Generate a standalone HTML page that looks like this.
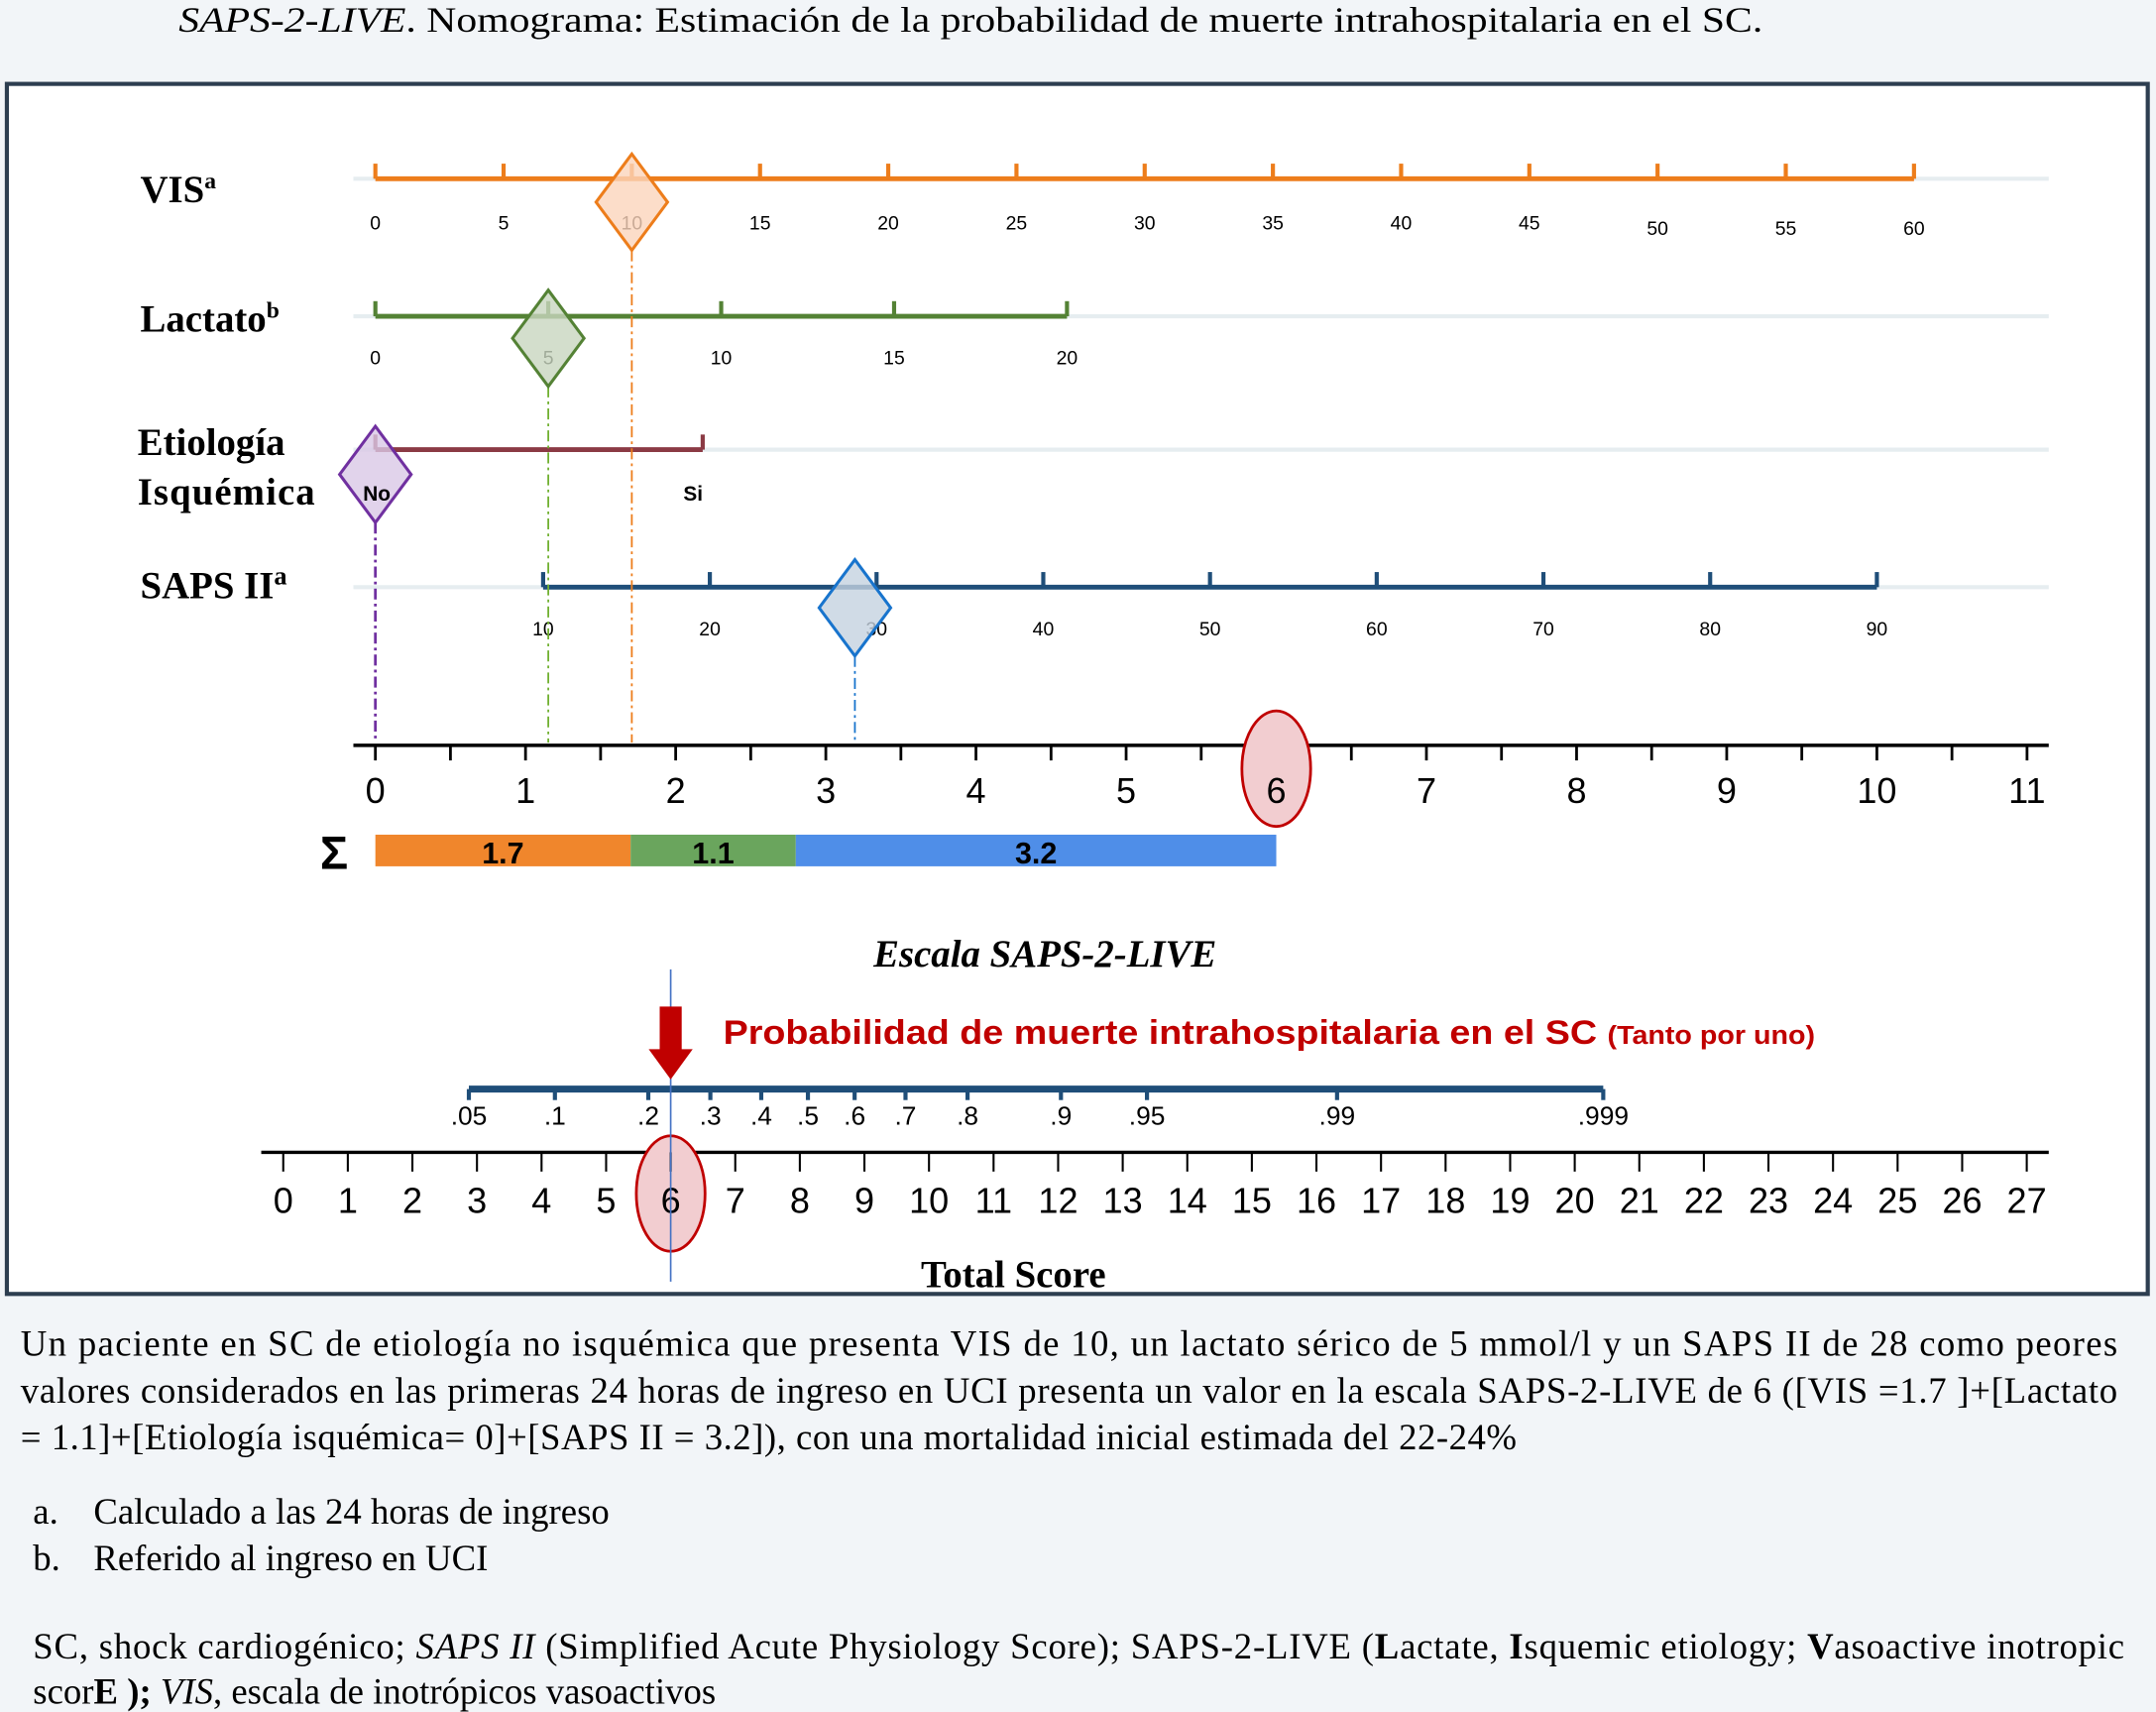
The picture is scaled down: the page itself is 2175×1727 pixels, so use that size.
<!DOCTYPE html>
<html><head><meta charset="utf-8"><style>
html,body{margin:0;padding:0;background:#f2f5f8;}
svg{display:block;}
.s{font-family:"Liberation Serif",serif;}
.a{font-family:"Liberation Sans",sans-serif;}
</style></head><body>
<svg id="c" width="2175" height="1727" viewBox="0 0 1568 1245" xmlns="http://www.w3.org/2000/svg">
<rect width="1568" height="1245" fill="#f2f5f8"/>
<text class="s" x="130" y="23" font-size="26" textLength="1152" lengthAdjust="spacingAndGlyphs"><tspan font-style="italic">SAPS-2-LIVE</tspan>. Nomograma: Estimación de la probabilidad de muerte intrahospitalaria en el SC.</text>
<rect x="5" y="61" width="1557" height="880" fill="#fff" stroke="#2d3e50" stroke-width="3"/>
<g id="g"></g>
<text class="s" x="102" y="147" font-size="28" font-weight="bold">VIS<tspan font-size="17" dy="-10">a</tspan></text>
<text class="s" x="102" y="241" font-size="28" font-weight="bold">Lactato<tspan font-size="17" dy="-10">b</tspan></text>
<text class="s" x="100" y="331" font-size="28" font-weight="bold">Etiología</text>
<text class="s" x="100" y="367" font-size="28" font-weight="bold" textLength="129">Isquémica</text>
<text class="s" x="102" y="435" font-size="28" font-weight="bold">SAPS II<tspan font-size="19" dy="-10">a</tspan></text>
<text class="a" x="243" y="632" font-size="34" font-weight="bold" text-anchor="middle">Σ</text>
<text class="s" x="760" y="703" font-size="28" font-weight="bold" font-style="italic" text-anchor="middle">Escala SAPS-2-LIVE</text>
<text class="a" x="526" y="759" font-size="25" font-weight="bold" fill="#c00000" textLength="794" lengthAdjust="spacingAndGlyphs">Probabilidad de muerte intrahospitalaria en el SC <tspan font-size="19">(Tanto por uno)</tspan></text>
<text class="s" x="737" y="936" font-size="28" font-weight="bold" text-anchor="middle">Total Score</text>
<g class="s" font-size="26.5">
<text x="15" y="986" textLength="1525" lengthAdjust="spacing">Un paciente en SC de etiología no isquémica que presenta  VIS de 10, un lactato sérico de 5 mmol/l y un SAPS II de 28 como peores</text>
<text x="15" y="1020" textLength="1525" lengthAdjust="spacing">valores considerados en las primeras 24 horas de ingreso en UCI presenta un valor en la escala  SAPS-2-LIVE  de 6 ([VIS =1.7 ]+[Lactato</text>
<text x="15" y="1054" textLength="1088" lengthAdjust="spacing">= 1.1]+[Etiología isquémica= 0]+[SAPS II = 3.2]), con una mortalidad inicial estimada del 22-24%</text>
<text x="24" y="1108">a.</text><text x="68" y="1108">Calculado a las 24 horas de ingreso</text>
<text x="24" y="1142">b.</text><text x="68" y="1142">Referido al ingreso en UCI</text>
<text x="24" y="1206" textLength="1521" lengthAdjust="spacing">SC, shock cardiogénico; <tspan font-style="italic">SAPS II</tspan> (Simplified Acute Physiology Score);  SAPS-2-LIVE (<tspan font-weight="bold">L</tspan>actate, <tspan font-weight="bold">I</tspan>squemic etiology; <tspan font-weight="bold">V</tspan>asoactive inotropic</text>
<text x="24" y="1239">scor<tspan font-weight="bold">E );</tspan> <tspan font-style="italic">VIS</tspan>, escala de inotrópicos vasoactivos</text>
</g>
</svg>
<script>
const pointTicks=[0,1,2,3,4,5,6,7,8,9,10,11];
const visTicks=[0,5,10,15,20,25,30,35,40,45,50,55,60];
const lacTicks=[0,5,10,15,20];
const etioLabels=["No","Si"];
const etioPoints=[0,2.18];
const sapsTicks=[10,20,30,40,50,60,70,80,90];
const totalTicks=[0,1,2,3,4,5,6,7,8,9,10,11,12,13,14,15,16,17,18,19,20,21,22,23,24,25,26,27];
const probLabels=[".05",".1",".2",".3",".4",".5",".6",".7",".8",".9",".95",".99",".999"];
const probValues=[0.05,0.1,0.2,0.3,0.4,0.5,0.6,0.7,0.8,0.9,0.95,0.99,0.999];
const patientVIS=10, patientLac=5, patientEtio=0, patientSAPS=28.7;
const contribNames=["vis","lactato","saps"];
const contribValues=[1.7,1.1,3.2];
const totalScore=6;

const NS="http://www.w3.org/2000/svg";
const g=document.getElementById('g');
function el(t,a,p){const e=document.createElementNS(NS,t);for(const k in a)e.setAttribute(k,a[k]);(p||g).appendChild(e);return e;}
const px=v=>273+v*109.2;
const visX=v=>273+v*(1392-273)/60;
const lacX=v=>273+v*(776-273)/20;
const sapsX=v=>395+(v-10)*(1365-395)/80;
const totX=v=>206+v*(1474-206)/27;
const logit=p=>Math.log(p/(1-p));
const probX=p=>341+(logit(p)-logit(0.05))*(1166-341)/(logit(0.999)-logit(0.05));

[130,230,327,427].forEach(y=>{const l=el('line',{x1:257,x2:1490,y1:y,y2:y,stroke:'#e6edf0','stroke-width':3});
});

function scale(ticks,f,y,col,ly,name,stagger){
  const L=el('line',{x1:f(ticks[0]),x2:f(ticks[ticks.length-1]),y1:y,y2:y,stroke:col,'stroke-width':3.5});
  
  ticks.forEach((t,i)=>{
    const tk=el('line',{x1:f(t),x2:f(t),y1:y,y2:y-11,stroke:col,'stroke-width':3});
    
    const tx=el('text',{x:f(t),y:ly+(stagger&&t>=50?4:0),'font-size':14,'text-anchor':'middle','font-family':'Liberation Sans, sans-serif'});
    tx.textContent=t;
  });
}
scale(visTicks,visX,130,'#ed7d1b',167,'vis',true);
scale(lacTicks,lacX,230,'#548235',265,'lactato',false);
scale(sapsTicks,sapsX,427,'#1f4e79',462,'saps',false);
{const L=el('line',{x1:px(etioPoints[0]),x2:px(etioPoints[1]),y1:327,y2:327,stroke:'#8b3a44','stroke-width':3.5});

etioPoints.forEach((p,i)=>{const tk=el('line',{x1:px(p),x2:px(p),y1:327,y2:316,stroke:'#8b3a44','stroke-width':3});

const t=el('text',{x:px(p)+(i?-7:1),y:364,'font-size':15,'font-weight':'bold','text-anchor':'middle','font-family':'Liberation Sans, sans-serif'});
t.textContent=etioLabels[i];});}

{const L=el('line',{x1:257,x2:1490,y1:542,y2:542,stroke:'#000','stroke-width':2.5});

pointTicks.forEach(t=>{const tk=el('line',{x1:px(t),x2:px(t),y1:542,y2:553,stroke:'#000','stroke-width':2});

if(px(t+0.5)<1490){const mid=el('line',{x1:px(t+0.5),x2:px(t+0.5),y1:542,y2:553,stroke:'#000','stroke-width':2});
}});}

{const e=el('ellipse',{cx:px(totalScore),cy:559,rx:25,ry:42,fill:'#f2cdd0',stroke:'#c00000','stroke-width':2});
}
pointTicks.forEach(t=>{const tx=el('text',{x:px(t),y:584,'font-size':26,'text-anchor':'middle','font-family':'Liberation Sans, sans-serif'});
tx.textContent=t;});

const marks=[
 {n:'etiologia',x:px(etioPoints[patientEtio]),y:345,col:'#7030a0',fill:'#d9c8e6'},
 {n:'lactato',x:lacX(patientLac),y:246,col:'#548235',fill:'#c8d6bf'},
 {n:'vis',x:visX(patientVIS),y:147,col:'#ed7d1b',fill:'#fbd5bc'},
 {n:'saps',x:sapsX(patientSAPS),y:442,col:'#1874cd',fill:'#c4d2e0'}];
const dcol={etiologia:'#7030a0',lactato:'#70b030',vis:'#ed7d1b',saps:'#1874cd'};
marks.forEach(m=>{
 const l=el('line',{x1:m.x,x2:m.x,y1:m.y+35,y2:540,stroke:dcol[m.n],'stroke-width':m.n==='etiologia'?2:1.3,'stroke-dasharray':'8 3 2 3'});
 
 const d=el('polygon',{points:`${m.x},${m.y-35} ${m.x+26},${m.y} ${m.x},${m.y+35} ${m.x-26},${m.y}`,fill:m.fill,'fill-opacity':0.8,stroke:m.col,'stroke-width':2.2});
 
});
{const t=el('text',{x:px(0)+1,y:364,'font-size':15,'font-weight':'bold','text-anchor':'middle','font-family':'Liberation Sans, sans-serif'});t.textContent='No';
}

const barCols=['#f0862c','#6aa55d','#4f8ee8'];
let acc=0;
contribValues.forEach((v,i)=>{
 const r=el('rect',{x:px(acc),y:607,width:px(acc+v)-px(acc),height:23,fill:barCols[i]});
 
 const t=el('text',{x:(px(acc)+px(acc+v))/2,y:628,'font-size':22,'font-weight':'bold','text-anchor':'middle','font-family':'Liberation Sans, sans-serif'});
 t.textContent=v.toFixed(1);
 acc+=v;
});

{const L=el('line',{x1:probX(probValues[0]),x2:probX(probValues[probValues.length-1]),y1:792,y2:792,stroke:'#1f4e79','stroke-width':5});

probValues.forEach((p,i)=>{const x=probX(p);
 const tk=el('line',{x1:x,x2:x,y1:792,y2:800,stroke:'#1f4e79','stroke-width':3});
 
 const t=el('text',{x:x,y:818,'font-size':19,'text-anchor':'middle','font-family':'Liberation Sans, sans-serif'});
 t.textContent=probLabels[i];});}

{const L=el('line',{x1:190,x2:1490,y1:838,y2:838,stroke:'#000','stroke-width':2.5});

const e=el('ellipse',{cx:totX(totalScore),cy:868,rx:25,ry:42,fill:'#f2cdd0',stroke:'#c00000','stroke-width':2});

totalTicks.forEach(t=>{const x=totX(t);
 const tk=el('line',{x1:x,x2:x,y1:838,y2:852,stroke:'#000','stroke-width':1.5});
 
 const tx=el('text',{x:x,y:882,'font-size':26,'text-anchor':'middle','font-family':'Liberation Sans, sans-serif'});
 tx.textContent=t;});}

{const x=totX(totalScore);
const l=el('line',{x1:x,x2:x,y1:705,y2:932,stroke:'#4472c4','stroke-width':1.2});

const a=el('polygon',{points:`${x-8},732 ${x+8},732 ${x+8},763 ${x+16},763 ${x},785 ${x-16},763 ${x-8},763`,fill:'#c00000'});
}
</script>
</body></html>
